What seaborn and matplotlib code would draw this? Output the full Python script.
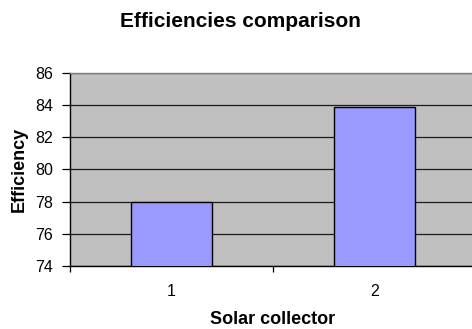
import matplotlib
matplotlib.use("Agg")
import matplotlib.pyplot as plt
import seaborn as sns
import pandas as pd
from matplotlib.ticker import FixedLocator

categories = ["1", "2"]
efficiency = [78.0, 83.9]
y_ticks = [74, 76, 78, 80, 82, 84, 86]

df = pd.DataFrame({"Solar collector": categories, "Efficiency": efficiency})

sns.set_theme(style="white")
plt.rcParams["font.family"] = ["Liberation Sans", "DejaVu Sans"]
plt.rcParams["text.color"] = "black"
plt.rcParams["axes.labelcolor"] = "black"
plt.rcParams["xtick.color"] = "black"
plt.rcParams["ytick.color"] = "black"

W, H = 472, 329
fig = plt.figure(figsize=(W / 100, H / 100), dpi=100)
ax = fig.add_axes([70 / W, 1 - 266 / H, (476 - 70) / W, (266 - 73) / H])
ax.set_facecolor("#C0C0C0")

sns.barplot(data=df, x="Solar collector", y="Efficiency", ax=ax, width=0.4,
            color="#9999FF", edgecolor="black", linewidth=1.0, saturation=1, zorder=3)

ax.set_ylim(74, 86)
ax.set_xlim(-0.5, 1.5)
ax.set_yticks(y_ticks)
ax.yaxis.grid(True, color="#1a1a1a", linewidth=0.9, zorder=0)
ax.set_axisbelow(True)

ax.tick_params(axis="y", which="major", direction="out", length=5.5, width=0.9,
               labelsize=11.5, pad=6.5, left=True)
ax.tick_params(axis="x", which="major", length=0, labelsize=11.5, pad=13)
ax.xaxis.set_minor_locator(FixedLocator([-0.5, 0.5, 1.5]))
ax.tick_params(axis="x", which="minor", direction="out", length=4.5, width=0.9,
               bottom=True)

for s in ["left", "bottom"]:
    ax.spines[s].set_color("black")
    ax.spines[s].set_linewidth(1.0)
ax.spines["top"].set_color("#808080")
ax.spines["top"].set_linewidth(1.0)
ax.spines["right"].set_visible(False)

ax.set_xlabel("Solar collector", fontsize=13, fontweight="bold", va="bottom")
ax.xaxis.set_label_coords(273 / W, 1 - 328 / H, transform=fig.transFigure)
ax.set_ylabel("Efficiency", fontsize=13, fontweight="bold", va="center")
ax.yaxis.set_label_coords(19.5 / W, 1 - 169.5 / H, transform=fig.transFigure)

fig.text(240.5 / W, 1 - 27 / H, "Efficiencies comparison", ha="center", va="baseline",
         fontsize=15, fontweight="bold")

fig.savefig("out.png", dpi=100)
